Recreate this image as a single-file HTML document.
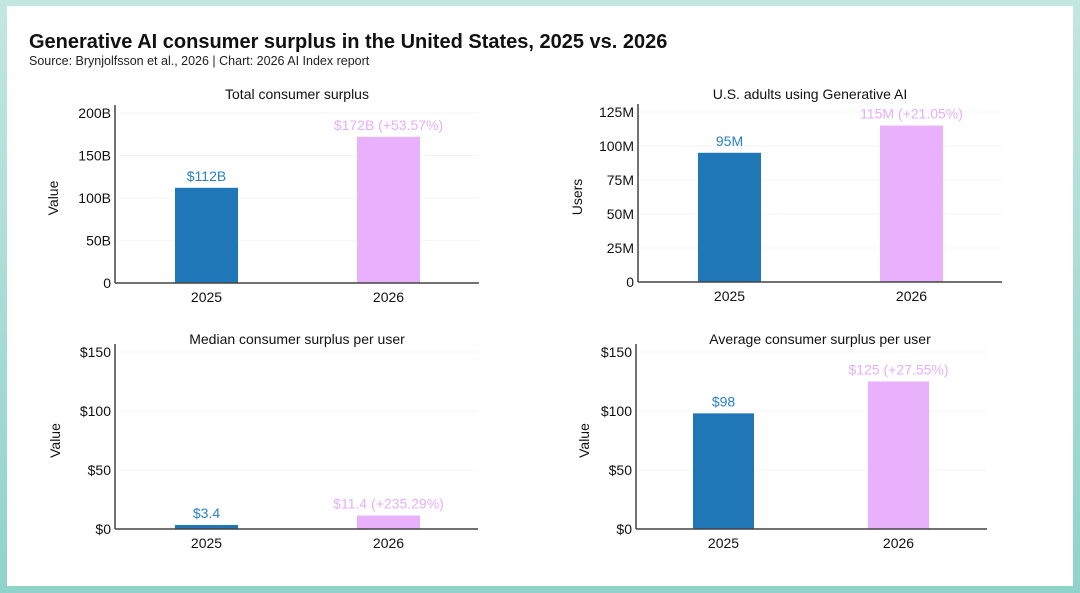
<!DOCTYPE html>
<html><head><meta charset="utf-8"><style>
html,body{margin:0;padding:0;}
body{width:1080px;height:593px;background:linear-gradient(180deg,#c3e6e1 0%,#8fd3cb 100%);position:relative;overflow:hidden;font-family:"Liberation Sans",sans-serif;}
#card{position:absolute;left:7px;top:6px;width:1066px;height:580px;background:#fff;}
svg{position:absolute;left:0;top:0;}
</style></head><body>
<div id="card"></div>
<svg id="chart" width="1080" height="593">
<text x="29" y="48" font-size="20" font-weight="bold" fill="#111">Generative AI consumer surplus in the United States, 2025 vs. 2026</text>
<text x="29" y="65" font-size="12.5" fill="#222">Source: Brynjolfsson et al., 2026 | Chart: 2026 AI Index report</text>
</svg>
<script>
const categories = ["2025", "2026"];
const totalValues = [112, 172];
const totalLabels = ["$112B", "$172B (+53.57%)"];
const totalTicks = [0, 50, 100, 150, 200];
const totalTickLabels = ["0", "50B", "100B", "150B", "200B"];
const usersValues = [95, 115];
const usersLabels = ["95M", "115M (+21.05%)"];
const usersTicks = [0, 25, 50, 75, 100, 125];
const usersTickLabels = ["0", "25M", "50M", "75M", "100M", "125M"];
const medianValues = [3.4, 11.4];
const medianLabels = ["$3.4", "$11.4 (+235.29%)"];
const medianTicks = [0, 50, 100, 150];
const medianTickLabels = ["$0", "$50", "$100", "$150"];
const avgValues = [98, 125];
const avgLabels = ["$98", "$125 (+27.55%)"];
const avgTicks = [0, 50, 100, 150];
const avgTickLabels = ["$0", "$50", "$100", "$150"];

const NS = "http://www.w3.org/2000/svg";
const svg = document.getElementById("chart");
const colors = ["#1f77b8", "#e9b0fb"];
const labelColors = ["#2a80c4", "#e6aefa"];
function mk(tag, attrs, parent) {
  const e = document.createElementNS(NS, tag);
  for (const k in attrs) e.setAttribute(k, attrs[k]);
  (parent || svg).appendChild(e);
  return e;
}
function panel(cfg, values, labels, ticks, tickLabels) {
  const g = mk("g", {});
  
  
  const yMax = ticks[ticks.length - 1];
  const y = v => cfg.y0 - (v / yMax) * (cfg.y0 - cfg.y1);
  const x = i => cfg.c0 + i * (cfg.c1 - cfg.c0);
  ticks.forEach((t, i) => {
    if (i > 0) {
      const gl = mk("line", {x1: cfg.ax + 2, x2: cfg.ax2, y1: y(t), y2: y(t), stroke: "#f5f5f5", "stroke-width": 1}, g);
      
      
    }
    const tl = mk("text", {x: cfg.ax - 4, y: y(t) + 5, "text-anchor": "end", "font-size": 14, fill: "#111"}, g);
    tl.textContent = tickLabels[i];
    
    
  });
  values.forEach((v, i) => {
    const b = mk("rect", {x: x(i) - cfg.bw / 2, y: y(v), width: cfg.bw, height: cfg.y0 - y(v), fill: colors[i]}, g);
    
    
    const vl = mk("text", {x: x(i), y: y(v) - 7, "text-anchor": "middle", "font-size": 14, fill: labelColors[i]}, g);
    vl.textContent = labels[i];
    
    
    const cl = mk("text", {x: x(i), y: cfg.y0 + 19, "text-anchor": "middle", "font-size": 14, fill: "#111"}, g);
    cl.textContent = categories[i];
    
    
  });
  const ya = mk("line", {x1: cfg.ax, x2: cfg.ax, y1: cfg.y1 - 8, y2: cfg.y0, stroke: "#444", "stroke-width": 1.5}, g);
  
  
  const xa = mk("line", {x1: cfg.ax, x2: cfg.ax2, y1: cfg.y0, y2: cfg.y0, stroke: "#444", "stroke-width": 1.5}, g);
  
  
  const t = mk("text", {x: cfg.tx, y: cfg.ty, "text-anchor": "middle", "font-size": 14, fill: "#111"}, g);
  t.textContent = cfg.title;
  
  
  const yt = mk("text", {x: 0, y: 0, "text-anchor": "middle", "font-size": 14, fill: "#111", transform: "translate(" + cfg.yx + "," + ((cfg.y0 + cfg.y1) / 2) + ") rotate(-90)"}, g);
  yt.textContent = cfg.ytitle;
  
  
}
panel({name: "panel-total-surplus", ax: 115, ax2: 479, y0: 283, y1: 113, c0: 206.5, c1: 388.5, bw: 63, tx: 297, ty: 99, title: "Total consumer surplus", yx: 58, ytitle: "Value"}, totalValues, totalLabels, totalTicks, totalTickLabels);
panel({name: "panel-us-adults", ax: 638, ax2: 1002, y0: 282, y1: 112, c0: 729.5, c1: 911.5, bw: 63, tx: 810, ty: 99, title: "U.S. adults using Generative AI", yx: 582, ytitle: "Users"}, usersValues, usersLabels, usersTicks, usersTickLabels);
panel({name: "panel-median-surplus", ax: 115, ax2: 478, y0: 529, y1: 352, c0: 206.5, c1: 388.5, bw: 63, tx: 297, ty: 344, title: "Median consumer surplus per user", yx: 60, ytitle: "Value"}, medianValues, medianLabels, medianTicks, medianTickLabels);
panel({name: "panel-average-surplus", ax: 636, ax2: 987, y0: 529, y1: 352, c0: 723.5, c1: 898.5, bw: 61, tx: 820, ty: 344, title: "Average consumer surplus per user", yx: 589, ytitle: "Value"}, avgValues, avgLabels, avgTicks, avgTickLabels);
</script>
</body></html>
